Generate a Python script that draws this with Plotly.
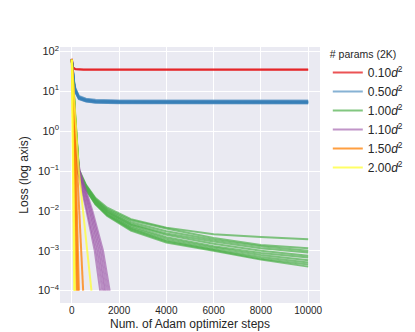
import plotly.graph_objects as go

# loss curves (several runs per model size)
red_steps = [0, 50, 150, 500, 2000, 10000]
red_runs = [
    [66, 40, 36, 35, 35, 35],
    [64, 39, 35.5, 34.8, 34.8, 34.8],
]

blue_steps = [0, 50, 100, 150, 300, 600, 1000, 2000, 4000, 10000]
blue_runs = [
    [62, 28, 17, 12, 7.6, 6.5, 6.1, 5.9, 5.85, 5.85],
    [62, 27, 16, 11.5, 7.3, 6.3, 5.9, 5.7, 5.65, 5.65],
    [62, 26, 16, 11, 7.1, 6.1, 5.7, 5.55, 5.5, 5.5],
    [62, 26, 15, 10.5, 6.9, 6.0, 5.6, 5.45, 5.4, 5.4],
    [62, 25, 15, 10.2, 6.8, 5.9, 5.5, 5.35, 5.3, 5.3],
    [62, 25, 14, 10, 6.6, 5.7, 5.35, 5.2, 5.15, 5.15],
    [62, 24, 14, 9.6, 6.5, 5.6, 5.25, 5.1, 5.05, 5.05],
    [62, 24, 13.5, 9.3, 6.3, 5.5, 5.15, 5.0, 4.95, 4.95],
]

green_steps = [0, 100, 150, 300, 600, 1000, 1500, 2500, 4000, 6000, 8000, 10000]
green_runs = [
    [62, 5.0, 2.2, 0.11, 0.045, 0.021, 0.012, 0.0062, 0.0038, 0.0026, 0.0022, 0.00195],
    [62, 4.5, 2.0, 0.10, 0.043, 0.020, 0.011, 0.0058, 0.0036, 0.0021, 0.0014, 0.00115],
    [62, 4.0, 1.8, 0.10, 0.042, 0.019, 0.0105, 0.0052, 0.0031, 0.0019, 0.0013, 0.0010],
    [62, 4.0, 1.9, 0.095, 0.040, 0.018, 0.0098, 0.0047, 0.0027, 0.0017, 0.00115, 0.00091],
    [62, 3.8, 1.7, 0.090, 0.039, 0.018, 0.0095, 0.0045, 0.0025, 0.0015, 0.0010, 0.00075],
    [62, 3.5, 1.6, 0.090, 0.038, 0.017, 0.0090, 0.0041, 0.0022, 0.0013, 0.00088, 0.00068],
    [62, 3.5, 1.5, 0.085, 0.037, 0.016, 0.0085, 0.0038, 0.0020, 0.0012, 0.00078, 0.00058],
    [62, 3.2, 1.5, 0.085, 0.036, 0.0155, 0.0080, 0.0036, 0.0018, 0.0011, 0.00070, 0.00051],
    [62, 3.0, 1.4, 0.080, 0.035, 0.015, 0.0078, 0.0034, 0.0017, 0.00105, 0.00063, 0.00045],
    [62, 3.0, 1.3, 0.080, 0.034, 0.0145, 0.0075, 0.0032, 0.0016, 0.0010, 0.00060, 0.00040],
]

purple_loss = [62, 4, 0.25, 0.1, 0.01, 0.001, 0.0001]
purple_runs = [
    [0, 100, 200, 250, 620, 970, 1200],
    [0, 100, 200, 270, 670, 1040, 1290],
    [0, 100, 200, 290, 720, 1110, 1370],
    [0, 100, 205, 305, 770, 1180, 1440],
    [0, 100, 210, 320, 820, 1250, 1520],
    [0, 100, 210, 340, 870, 1320, 1600],
]

orange_loss = [62, 0.1, 0.0001]
orange_runs = [
    [0, 110, 200],
    [0, 140, 250],
    [0, 170, 300],
    [0, 240, 480],
]

yellow_loss = [62, 0.1, 0.0001]
yellow_runs = [
    [0, 55, 100],
    [0, 70, 130],
    [0, 296, 830],
]

labels = ["0.10", "0.50", "1.00", "1.10", "1.50", "2.00"]
y_ticks = [1e2, 1e1, 1e0, 1e-1, 1e-2, 1e-3, 1e-4]
y_ticktext = ["10<sup>2</sup>", "10<sup>1</sup>", "10<sup>0</sup>", "10<sup>\u22121</sup>",
              "10<sup>\u22122</sup>", "10<sup>\u22123</sup>", "10<sup>\u22124</sup>"]
x_ticks = [0, 2000, 4000, 6000, 8000, 10000]

colors = ["rgba(228,26,28,0.75)", "rgba(55,126,184,0.6)", "rgba(77,175,74,0.7)",
          "rgba(152,78,163,0.6)", "rgba(255,127,0,0.75)", "rgba(255,255,51,0.75)"]

groups = [
    [(red_steps, r) for r in red_runs],
    [(blue_steps, r) for r in blue_runs],
    [(green_steps, r) for r in green_runs],
    [(s, purple_loss) for s in purple_runs],
    [(s, orange_loss) for s in orange_runs],
    [(s, yellow_loss) for s in yellow_runs],
]

fig = go.Figure()
for i, runs in enumerate(groups):
    for j, (xs, ys) in enumerate(runs):
        fig.add_trace(go.Scatter(
            x=xs, y=ys, mode="lines",
            line=dict(color=colors[i], width=2),
            name=labels[i] + "<i>d</i><sup>2</sup>",
            legendgroup=labels[i], showlegend=(j == 0),
        ))

font = "Liberation Sans, Arial, sans-serif"
fig.update_layout(
    width=415, height=332,
    margin=dict(l=52, r=103, t=39, b=37),
    paper_bgcolor="white", plot_bgcolor="#EAEAF2",
    font=dict(family=font, size=10, color="#262626"),
    legend=dict(
        title=dict(text="# params (2K)", font=dict(size=10.5)),
        x=1.03, y=1.01, xanchor="left", yanchor="top",
        font=dict(size=12), tracegroupgap=0, itemwidth=30,
        bgcolor="rgba(0,0,0,0)",
    ),
    showlegend=True,
)
fig.update_xaxes(
    range=[-500, 10500], tickvals=x_ticks, tickformat="d",
    showgrid=True, gridcolor="white", gridwidth=1.2, zeroline=False,
    ticks="", title=dict(text="Num. of Adam optimizer steps", standoff=4),
    showline=False,
)
fig.update_yaxes(
    type="log", range=[-4.31, 2.11], tickvals=y_ticks, ticktext=y_ticktext,
    showgrid=True, gridcolor="white", gridwidth=1.2, zeroline=False,
    ticks="", title=dict(text="Loss (log axis)", standoff=6),
    tickfont=dict(size=11), showline=False,
)

fig.write_html("out.html")
